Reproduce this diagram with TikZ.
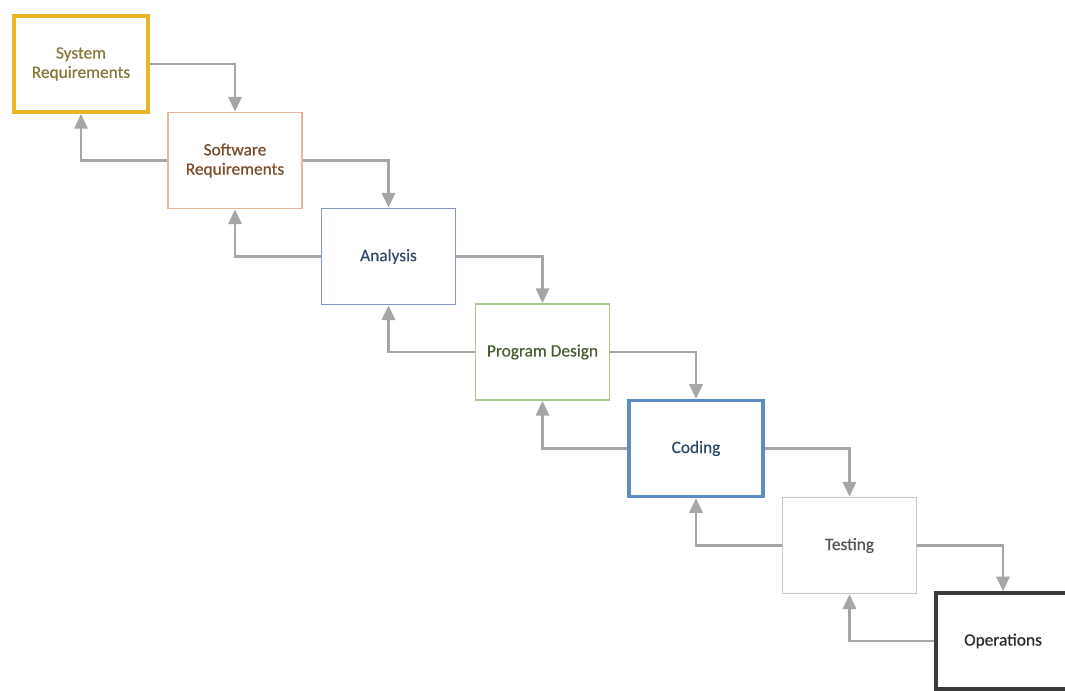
\documentclass[tikz,border=0pt]{standalone}
\usepackage{fontspec}
\setmainfont{Carlito}[FakeBold=0.4]
\usetikzlibrary{arrows.meta}

% Stage colours: frame and label
\definecolor{sysFrame}{HTML}{E6BA22}\definecolor{sysText}{HTML}{857A3A}
\definecolor{swFrame}{HTML}{E9B59C}\definecolor{swText}{HTML}{7B4B2A}
\definecolor{anFrame}{HTML}{8297BE}\definecolor{anText}{HTML}{34486A}
\definecolor{pdFrame}{HTML}{AAC890}\definecolor{pdText}{HTML}{4A5E32}
\definecolor{coFrame}{HTML}{5B8DC2}\definecolor{coText}{HTML}{2A4A6A}
\definecolor{teFrame}{HTML}{C6C6C6}\definecolor{teText}{HTML}{555555}
\definecolor{opFrame}{HTML}{3A3A3A}\definecolor{opText}{HTML}{2A2A2A}
\definecolor{flowGray}{HTML}{A6A6A6}

\tikzset{
  stage/.style={draw, fill=white, rectangle, minimum width=100.5pt, minimum height=72pt,
    inner sep=2pt, align=center, font=\fontsize{13}{14.5}\selectfont, line width=1.4pt},
  flow/.style={draw=flowGray, line width=1.7pt,
    -{Triangle[length=11pt,width=10pt]}, color=flowGray},
}

\begin{document}
\begin{tikzpicture}[x=0.75pt, y=-0.75pt]
  \useasboundingbox (0,0) rectangle (1065,691);
  \fill[white] (0,0) rectangle (1065,691);

  \node[stage, draw=sysFrame, text=sysText, line width=3pt] (sys) at (81,64) {System\\Requirements};
  \node[stage, draw=swFrame, text=swText] (sw) at (235,160.5) {Software\\Requirements};
  \node[stage, draw=anFrame, text=anText] (an) at (388.5,256.5) {Analysis};
  \node[stage, draw=pdFrame, text=pdText] (pd) at (542.5,352) {Program Design};
  \node[stage, draw=coFrame, text=coText, line width=2.6pt] (co) at (696,448.5) {Coding};
  \node[stage, draw=teFrame, text=teText] (te) at (849.5,545.5) {Testing};
  \node[stage, draw=opFrame, text=opText, line width=2.6pt] (op) at (1003,641) {Operations};

  % forward steps
  \draw[flow] (sys.east) -| (sw.north);
  \draw[flow] (sw.east) -| (an.north);
  \draw[flow] (an.east) -| (pd.north);
  \draw[flow] (pd.east) -| (co.north);
  \draw[flow] (co.east) -| (te.north);
  \draw[flow] (te.east) -| (op.north);

  % feedback steps
  \draw[flow] (sw.west) -| (sys.south);
  \draw[flow] (an.west) -| (sw.south);
  \draw[flow] (pd.west) -| (an.south);
  \draw[flow] (co.west) -| (pd.south);
  \draw[flow] (te.west) -| (co.south);
  \draw[flow] (op.west) -| (te.south);
\end{tikzpicture}
\end{document}
